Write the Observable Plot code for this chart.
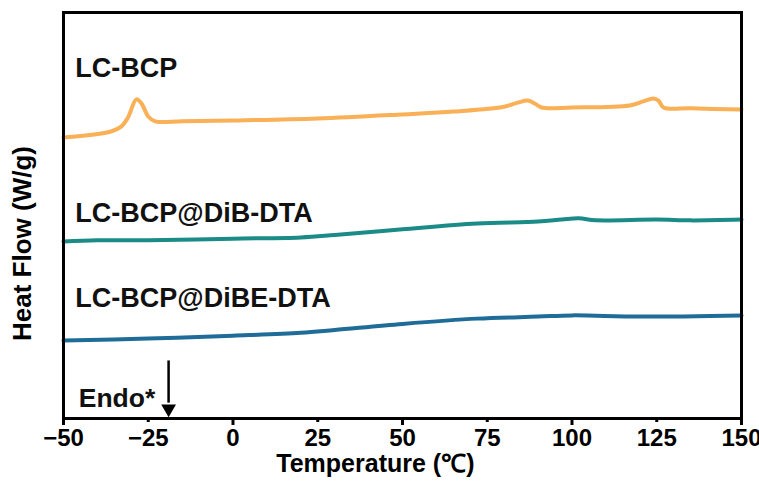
<!DOCTYPE html>
<html>
<head>
<meta charset="utf-8">
<script src="https://cdn.jsdelivr.net/npm/d3@7"></script>
<script src="https://cdn.jsdelivr.net/npm/@observablehq/plot@0.6"></script>
<style>
  html, body { margin: 0; padding: 0; background: #fff; }
  #chart svg { display: block; }
</style>
</head>
<body>
<div id="chart"></div>
<script>
// Temperature (°C) and heat flow (arbitrary, offset)
const tempLCBCP = [-50, -36, -33, -31, -28.5, -27, -25, -23, -15, 0, 25, 50, 65, 80, 84, 87, 89, 91, 100, 117, 121, 124, 125.5, 127, 135, 150];
const flowLCBCP = [69.2, 70.7, 71.9, 74.1, 78.6, 77.6, 74.4, 73.2, 73.2, 73.4, 73.9, 74.9, 75.6, 76.8, 77.8, 78.3, 77.6, 76.6, 76.6, 77.1, 78.1, 78.8, 78.3, 76.6, 76.4, 76.1];

const tempDiB = [-50, -40, -25, 0, 20, 30, 50, 72, 90, 97, 102, 107, 125, 135, 150];
const flowDiB = [43.6, 43.9, 43.9, 44.3, 44.6, 45.2, 46.6, 48.0, 48.5, 49.0, 49.3, 48.8, 49.0, 48.8, 49.0];

const tempDiBE = [-50, -25, 0, 20, 30, 50, 72, 90, 100, 120, 150];
const flowDiBE = [19.2, 19.7, 20.4, 21.1, 21.8, 23.3, 24.6, 25.1, 25.4, 25.1, 25.4];

const seriesNames = ["LC-BCP", "LC-BCP@DiB-DTA", "LC-BCP@DiBE-DTA"];
const seriesColors = ["#F9B057", "#1B8B88", "#1F6C98"];
const labelX = [-46.5, -46.5, -46.5];
const labelY = [86.2, 50.6, 29.6];

const majorTicks = [-50, 0, 50, 100, 150];
const minorTicks = [-25, 25, 75, 125];
const allTicks = [-50, -25, 0, 25, 50, 75, 100, 125, 150];

const endoLabel = "Endo*";
const endoX = -45.5;
const endoY = 5.0;
const arrowT = -19;
const arrowTop = 14.3;
const arrowTip = 2.4;

const toRows = (t, f, name) => t.map((x, i) => ({T: x, H: f[i], s: name}));
const rows = [
  ...toRows(tempLCBCP, flowLCBCP, seriesNames[0]),
  ...toRows(tempDiB, flowDiB, seriesNames[1]),
  ...toRows(tempDiBE, flowDiBE, seriesNames[2])
];
const labels = seriesNames.map((n, i) => ({n, x: labelX[i], y: labelY[i]}));

const boldFont = "Liberation Sans, Arial, sans-serif";

const plot = Plot.plot({
  width: 759,
  height: 489,
  marginLeft: 63,
  marginRight: 18,
  marginTop: 12,
  marginBottom: 71,
  style: {background: "#fff"},
  x: {domain: [-50, 150]},
  y: {domain: [0, 100], axis: null},
  color: {domain: seriesNames, range: seriesColors},
  marks: [
    Plot.line(rows, {x: "T", y: "H", z: "s", stroke: "s", strokeWidth: 4, curve: "catmull-rom"}),
    Plot.text(labels, {x: "x", y: "y", text: "n", textAnchor: "start", fontSize: 27, fontWeight: "bold", fontFamily: boldFont, fill: "#111"}),
    Plot.text([endoLabel], {x: endoX, y: endoY, text: d => d, textAnchor: "start", fontSize: 26.5, fontWeight: "bold", fontFamily: boldFont, fill: "#111"}),
    Plot.link([arrowT], {x1: d => d, x2: d => d, y1: arrowTop, y2: arrowTip + 1.5, stroke: "#000", strokeWidth: 2.5}),
    Plot.dot([arrowT], {x: d => d, y: arrowTip, symbol: "triangle", rotate: 180, r: 5.5, fill: "#000", stroke: "none"}),
    Plot.axisX({ticks: majorTicks, tickSize: 7, strokeWidth: 3, text: null, label: null}),
    Plot.axisX({ticks: minorTicks, tickSize: 4, strokeWidth: 3, text: null, label: null}),
    Plot.axisX({ticks: allTicks, tickSize: 0, tickPadding: 10, label: null, fontSize: 24, fontWeight: "bold", fontFamily: boldFont, fill: "#000"}),
    Plot.text(["Temperature (℃)"], {x: 42, frameAnchor: "bottom", dy: 53, text: d => d, fontSize: 25, fontWeight: "bold", fontFamily: boldFont, fill: "#000"}),
    Plot.text(["Heat Flow (W/g)"], {frameAnchor: "left", textAnchor: "middle", dx: -41, dy: 28, rotate: -90, text: d => d, fontSize: 26, fontWeight: "bold", fontFamily: boldFont, fill: "#000"}),
    Plot.frame({stroke: "#000", strokeWidth: 3})
  ]
});
document.getElementById("chart").appendChild(plot);
</script>
</body>
</html>
